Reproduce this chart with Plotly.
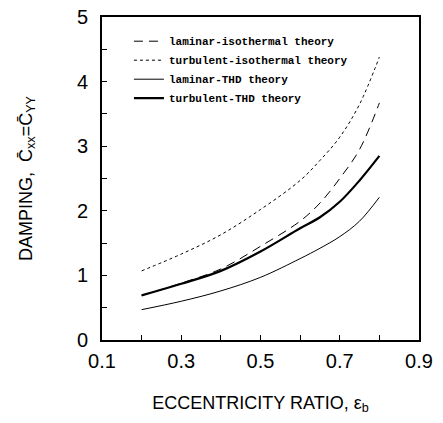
import plotly.graph_objects as go

# eccentricity ratio
ecc = [0.2, 0.3, 0.4, 0.5, 0.6, 0.65, 0.7, 0.75, 0.8]

# damping coefficients
lam_iso = [0.69, 0.88, 1.10, 1.45, 1.84, 2.12, 2.50, 2.95, 3.67]
turb_iso = [1.07, 1.33, 1.63, 2.02, 2.47, 2.78, 3.14, 3.65, 4.38]
lam_thd = [0.47, 0.60, 0.76, 0.97, 1.26, 1.42, 1.60, 1.84, 2.21]
turb_thd = [0.69, 0.87, 1.07, 1.37, 1.73, 1.90, 2.14, 2.47, 2.85]

names = ["laminar-isothermal theory", "turbulent-isothermal theory",
         "laminar-THD theory", "turbulent-THD theory"]

axis_font = "Liberation Sans, Arial, sans-serif"

fig = go.Figure()
fig.add_trace(go.Scatter(x=ecc, y=lam_iso, name=names[0], mode="lines",
                         line=dict(color="black", width=1, dash="9px,6px", shape="spline")))
fig.add_trace(go.Scatter(x=ecc, y=turb_iso, name=names[1], mode="lines",
                         line=dict(color="black", width=1, dash="3px,3px", shape="spline")))
fig.add_trace(go.Scatter(x=ecc, y=lam_thd, name=names[2], mode="lines",
                         line=dict(color="black", width=1, shape="spline")))
fig.add_trace(go.Scatter(x=ecc, y=turb_thd, name=names[3], mode="lines",
                         line=dict(color="black", width=2.2, shape="spline")))

# page body adds an 8px offset, margins are set to compensate
fig.update_layout(
    width=443, height=423,
    margin=dict(l=94, r=32, t=9, b=91),
    plot_bgcolor="white", paper_bgcolor="white",
    showlegend=True,
    legend=dict(x=0.085, y=0.97, xanchor="left", yanchor="top",
                bgcolor="rgba(0,0,0,0)", tracegroupgap=0,
                font=dict(family="Liberation Mono, Courier New, monospace", size=11,
                          color="black", weight="bold"),
                itemwidth=30),
    xaxis=dict(range=[0.1, 0.9], tickvals=[0.1, 0.3, 0.5, 0.7, 0.9],
               ticktext=["0.1", "0.3", "0.5", "0.7", "0.9"],
               ticks="inside", ticklen=5, tickwidth=1.2, tickcolor="black",
               minor=dict(tickvals=[0.2, 0.4, 0.6, 0.8], ticks="inside",
                          ticklen=5, tickwidth=1.2, tickcolor="black"),
               showline=True, linewidth=2, linecolor="black", mirror=True,
               showgrid=False, zeroline=False, automargin=False,
               ticklabelstandoff=2, ticklabeloverflow="allow",
               tickfont=dict(family=axis_font, size=20, color="black"),
               title=dict(text="ECCENTRICITY RATIO, ε<sub>b</sub>",
                          font=dict(family=axis_font, size=18, color="black"),
                          standoff=25)),
    yaxis=dict(range=[0, 5], dtick=1,
               ticks="inside", ticklen=5, tickwidth=1.2, tickcolor="black",
               minor=dict(dtick=0.5, ticks="inside", ticklen=5,
                          tickwidth=1.2, tickcolor="black"),
               showline=True, linewidth=2, linecolor="black", mirror=True,
               showgrid=False, zeroline=False, automargin=False,
               ticklabelstandoff=8, ticklabeloverflow="allow",
               tickfont=dict(family=axis_font, size=20, color="black"),
               title=dict(text="DAMPING,  C\u0304<sub>xx</sub>=C\u0304<sub>YY</sub>",
                          font=dict(family=axis_font, size=18, color="black"),
                          standoff=40)),
)

fig.write_html("out.html")
